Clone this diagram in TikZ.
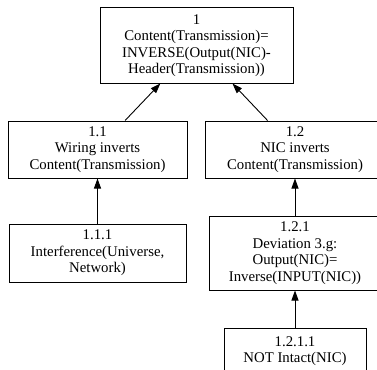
\documentclass[tikz,border=0pt]{standalone}
\usepackage{fontspec}
\setmainfont{Liberation Serif}
\usepackage{tikz}
\usetikzlibrary{arrows.meta}
\tikzset{
  box/.style={draw, rectangle, line width=1pt, align=center, inner sep=2pt,
    font=\rmfamily\fontsize{14.8}{16.5}\selectfont},
  arr/.style={-{Triangle[length=10pt, width=7pt]}, line width=0.9pt}
}

\begin{document}
\begin{tikzpicture}[x=1pt, y=-1pt]
\clip (0,0) rectangle (377,369);
\node[box, minimum width=193pt, minimum height=75pt] (n1) at (196.5,45.5)
  {1\\Content(Transmission)=\\INVERSE(Output(NIC)-\\Header(Transmission))};
\node[box, minimum width=179pt, minimum height=57pt] (n11) at (97.5,149.5)
  {1.1\\Wiring inverts\\Content(Transmission)};
\node[box, minimum width=180pt, minimum height=57pt] (n12) at (295,149.5)
  {1.2\\NIC inverts\\Content(Transmission)};
\node[box, minimum width=177pt, minimum height=58pt] (n111) at (97.5,253)
  {1.1.1\\Interference(Universe,\\Network)};
\node[box, minimum width=172pt, minimum height=74pt] (n121) at (295,253)
  {1.2.1\\Deviation 3.g:\\Output(NIC)=\\Inverse(INPUT(NIC))};
\node[box, minimum width=142pt, minimum height=46pt] (n1211) at (295,351)
  {1.2.1.1\\NOT Intact(NIC)};
\foreach \s/\t in {n11/n1,n12/n1,n111/n11,n121/n12,n1211/n121} \draw[arr] (\s) -- (\t);
\end{tikzpicture}
\end{document}
